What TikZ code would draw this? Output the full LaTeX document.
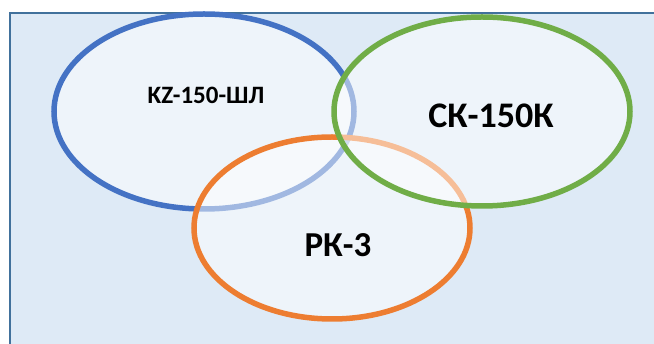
\documentclass[tikz,border=0pt]{standalone}
\usepackage{fontspec}
\setmainfont{Carlito}
\definecolor{bgfill}{HTML}{DEEAF6}
\definecolor{bgline}{HTML}{41719C}
\definecolor{cblue}{HTML}{4472C4}
\definecolor{corange}{HTML}{ED7D31}
\definecolor{cgreen}{HTML}{70AD47}
\begin{document}
\begin{tikzpicture}[x=1pt,y=-1pt,
  venn/.style={line width=5.5pt, fill=white, fill opacity=0.5, draw opacity=1},
  lbl/.style={font=\bfseries, text=black, inner sep=0pt}]
\useasboundingbox (0,0) rectangle (654,344);
\clip (0,0) rectangle (654,344);
\draw[fill=bgfill, draw=bgline, line width=2pt] (10,13) rectangle (670,360);
\path[venn, draw=cblue] (204,111.5) ellipse [x radius=150, y radius=97.5];
\path[venn, draw=corange] (332,228) ellipse [x radius=138, y radius=91];
\path[venn, draw=cgreen] (482,111.5) ellipse [x radius=148, y radius=94.5];
\node[lbl, font=\bfseries\fontsize{25}{30}\selectfont] (kz) at (206,95) {KZ-150-ШЛ};
\node[lbl, font=\bfseries\fontsize{36}{42}\selectfont] (ck) at (491,116) {СК-150К};
\node[lbl, font=\bfseries\fontsize{35}{42}\selectfont] (pk) at (338,245) {РК-3};
\end{tikzpicture}
\end{document}
